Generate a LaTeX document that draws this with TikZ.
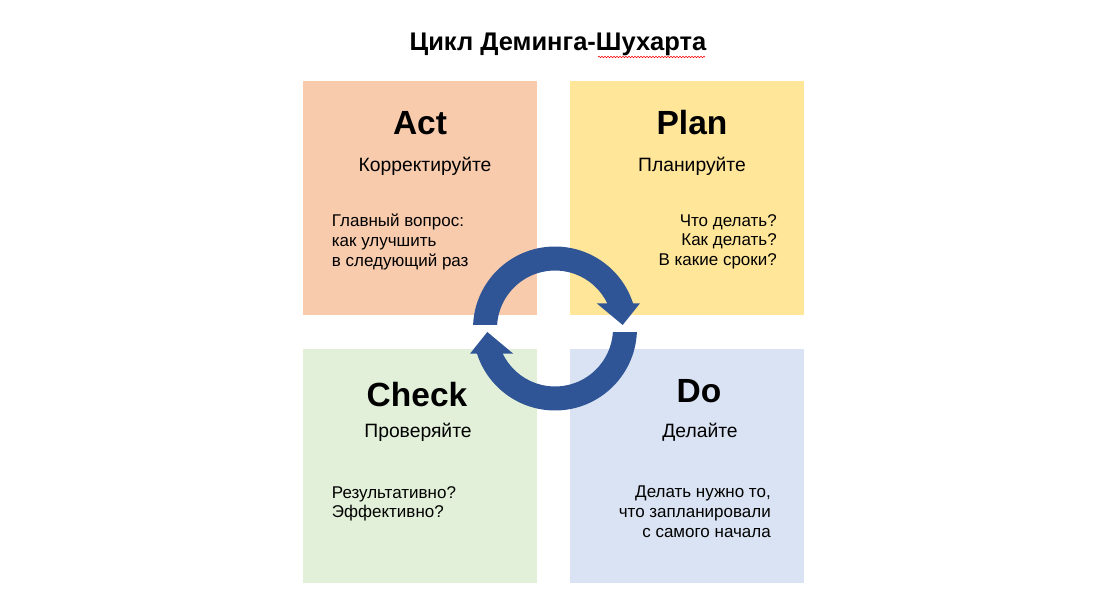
\documentclass[tikz,border=0pt]{standalone}
\usepackage{fontspec}
\setmainfont{Liberation Sans}
\usetikzlibrary{positioning}
\usetikzlibrary{decorations.pathmorphing}
\definecolor{actfill}{HTML}{F8CBAD}
\definecolor{planfill}{HTML}{FFE699}
\definecolor{checkfill}{HTML}{E2F0D9}
\definecolor{dofill}{HTML}{DAE3F3}
\definecolor{cycblue}{HTML}{2F5597}
\tikzset{quad/.style={draw=none, minimum size=234pt, inner sep=0pt, outer sep=0pt}}
\tikzset{head/.style={anchor=base, font=\fontsize{33.5}{40}\selectfont\bfseries}}
\tikzset{sub/.style={anchor=base, font=\fontsize{19.3}{23}\selectfont}}
\tikzset{body/.style={inner sep=0pt, font=\fontsize{17}{19.7}\selectfont}}
\tikzset{cyc/.style={fill=cycblue, draw=none}}

\begin{document}
\begin{tikzpicture}[x=1pt,y=1pt]
   \useasboundingbox (0,0) rectangle (1104,608);
   \node[anchor=base, font=\fontsize{25.5}{30}\selectfont\bfseries] (title) at (558,557) {Цикл Деминга-Шухарта};
   \draw[red, line width=0.6pt, decorate, decoration={snake, amplitude=0.7pt, segment length=3pt}] (598,551) -- (705,551);

   \node[quad, fill=actfill]   (act)   at (420,410) {};
   \node[quad, fill=planfill]  (plan)  [right=33pt of act] {};
   \node[quad, fill=checkfill] (check) [below=34pt of act] {};
   \node[quad, fill=dofill]    (do)    [right=33pt of check] {};

   \node[head] (acthead)   at (420,473) {Act};
   \node[head] (planhead)  at (692,473) {Plan};
   \node[head] (checkhead) at (417,201) {Check};
   \node[head] (dohead)    at (699,205) {Do};

   \node[sub] (actsub)   at (425,436) {Корректируйте};
   \node[sub] (plansub)  at (692,436) {Планируйте};
   \node[sub] (checksub) at (418,170) {Проверяйте};
   \node[sub] (dosub)    at (700,170) {Делайте};

   \node[body, anchor=north west, align=left]  (actbody)   at (331.7,394) {Главный вопрос:\\как улучшить\\в следующий раз};
   \node[body, anchor=north east, align=right] (planbody)  at (777,394) {Что делать?\\Как делать?\\В какие сроки?};
   \node[body, anchor=north west, align=left]  (checkbody) at (331.7,122) {Результативно?\\Эффективно?};
   \node[body, anchor=north east, align=right] (dobody)    at (771,122) {Делать нужно то,\\что запланировали\hspace*{4pt}\\с самого начала};

   % cycle arrows
   \begin{scope}[shift={(555,279.5)}]
      \fill[cyc] (177.55:82) arc[start angle=177.55, end angle=17.9, radius=82]
         -- (85,25.2) -- (67.7,3.5) -- (41.7,25.2)
         -- (25.7:58) arc[start angle=25.7, end angle=176.5, radius=58] -- cycle;
      \fill[cyc, rotate=180] (177.55:82) arc[start angle=177.55, end angle=17.9, radius=82]
         -- (85,25.2) -- (67.7,3.5) -- (41.7,25.2)
         -- (25.7:58) arc[start angle=25.7, end angle=176.5, radius=58] -- cycle;
   \end{scope}
\end{tikzpicture}
\end{document}
